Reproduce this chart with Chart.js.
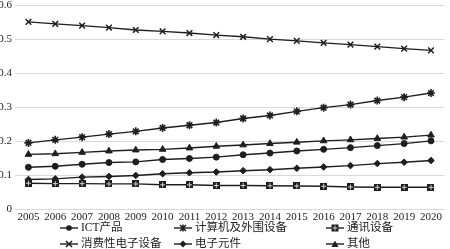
<!DOCTYPE html>
<html>
<head>
<meta charset="utf-8">
<script src="https://cdn.jsdelivr.net/npm/chart.js@4"></script>
<style>
  html, body { margin: 0; padding: 0; background: #fff; }
  #wrap { position: relative; width: 450px; height: 249px; }
  #legend { position: absolute; left: 0; top: 219px; width: 450px; font-family: "Liberation Serif", "Noto Sans CJK SC", serif; font-size: 11.5px; color: #222; }
  .item { position: absolute; height: 16px; line-height: 16px; white-space: nowrap; }
  .item svg { vertical-align: middle; margin-right: 3px; }
</style>
</head>
<body>
<div id="wrap">
  <canvas id="chart" width="450" height="249"></canvas>
  <div id="legend"></div>
</div>
<script>
/*===============
data
====================*/
const years = ['2005', '2006', '2007', '2008', '2009', '2010', '2011', '2012', '2013', '2014', '2015', '2016', '2017', '2018', '2019', '2020'];
const ictProducts = [0.123, 0.126, 0.132, 0.137, 0.139, 0.146, 0.149, 0.153, 0.160, 0.165, 0.171, 0.176, 0.181, 0.187, 0.193, 0.201];
const computers = [0.195, 0.204, 0.212, 0.221, 0.229, 0.239, 0.247, 0.255, 0.267, 0.276, 0.288, 0.299, 0.308, 0.320, 0.330, 0.342];
const telecom = [0.076, 0.075, 0.075, 0.074, 0.074, 0.0715, 0.0715, 0.0695, 0.0695, 0.0685, 0.068, 0.067, 0.065, 0.064, 0.064, 0.064];
const consumer = [0.552, 0.546, 0.541, 0.535, 0.528, 0.524, 0.519, 0.513, 0.508, 0.501, 0.496, 0.490, 0.485, 0.479, 0.473, 0.468];
const components = [0.087, 0.089, 0.094, 0.096, 0.099, 0.104, 0.107, 0.109, 0.113, 0.116, 0.120, 0.124, 0.128, 0.134, 0.138, 0.143];
const others = [0.161, 0.163, 0.167, 0.171, 0.174, 0.176, 0.180, 0.185, 0.189, 0.193, 0.197, 0.201, 0.204, 0.208, 0.212, 0.218];
const yTicks = ['0', '0.1', '0.2', '0.3', '0.4', '0.5', '0.6'];

const ink = '#1e1e1e';

// square with a light cross inside, like the excel marker
const gridSquare = document.createElement('canvas');
gridSquare.width = 7; gridSquare.height = 7;
(function () {
    const c = gridSquare.getContext('2d');
    c.fillStyle = ink;
    c.fillRect(0, 0, 7, 7);
    c.fillStyle = '#cfcfcf';
    c.fillRect(3, 1, 1, 5);
    c.fillRect(1, 3, 5, 1);
})();

function series(label, data, style, radius, border) {
    return {
        label: label,
        data: data,
        borderColor: ink,
        backgroundColor: ink,
        borderWidth: 1.4,
        pointStyle: style,
        pointRadius: radius,
        pointBorderWidth: border,
        pointBackgroundColor: ink,
        pointBorderColor: ink,
        tension: 0
    };
}

/*===============
line chart
====================*/
const ctx = document.getElementById('chart');
new Chart(ctx, {
    type: 'line',
    data: {
        labels: years,
        datasets: [
            series('ICT产品', ictProducts, 'circle', 3, 1),
            series('计算机及外围设备', computers, 'star', 4, 1.6),
            series('通讯设备', telecom, gridSquare, 4, 1),
            series('消费性电子设备', consumer, 'crossRot', 4, 1.5),
            series('电子元件', components, 'rectRot', 3.3, 1),
            series('其他', others, 'triangle', 3.8, 1)
        ]
    },
    options: {
        responsive: false,
        animation: false,
        layout: { padding: { top: 5, right: 1, left: 0, bottom: 0 } },
        plugins: {
            legend: { display: false },
            tooltip: { enabled: false }
        },
        scales: {
            x: {
                offset: true,
                grid: { display: false, drawTicks: false },
                border: { display: false },
                ticks: {
                    color: '#222',
                    padding: 2,
                    maxRotation: 0,
                    autoSkip: false,
                    font: { family: 'Liberation Serif', size: 11 }
                },
                afterFit: function (scale) { scale.height = 40; }
            },
            y: {
                min: 0,
                max: 0.6,
                grid: { color: '#d9d9d9', lineWidth: 1, drawTicks: false },
                border: { display: false },
                ticks: {
                    stepSize: 0.1,
                    color: '#222',
                    padding: 3,
                    font: { family: 'Liberation Serif', size: 11 },
                    callback: function (v, i) { return yTicks[i]; }
                },
                afterFit: function (scale) {
                    scale.width = 15;
                    scale.paddingTop = 0;
                    scale.paddingBottom = 0;
                }
            }
        }
    }
});

/*===============
legend
====================*/
const legendItems = [
    { label: 'ICT产品', mark: 'circle', x: 60, row: 0 },
    { label: '计算机及外围设备', mark: 'star', x: 174, row: 0 },
    { label: '通讯设备', mark: 'grid', x: 326, row: 0 },
    { label: '消费性电子设备', mark: 'cross', x: 60, row: 1 },
    { label: '电子元件', mark: 'diamond', x: 174, row: 1 },
    { label: '其他', mark: 'triangle', x: 326, row: 1 }
];

function markSvg(mark) {
    let m = '';
    if (mark === 'circle') m = '<circle cx="9" cy="5" r="2.8" fill="' + ink + '"/>';
    if (mark === 'star') m = '<path d="M6 2L12 8M12 2L6 8M9 1.5V8.5" stroke="' + ink + '" stroke-width="1.5"/>';
    if (mark === 'grid') m = '<rect x="5.5" y="1.5" width="7" height="7" fill="' + ink + '"/><path d="M9 2.5V7.5M6.5 5H11.5" stroke="#cfcfcf" stroke-width="1"/>';
    if (mark === 'cross') m = '<path d="M6 2L12 8M12 2L6 8" stroke="' + ink + '" stroke-width="1.5"/>';
    if (mark === 'diamond') m = '<path d="M9 1.6L12.4 5L9 8.4L5.6 5Z" fill="' + ink + '"/>';
    if (mark === 'triangle') m = '<path d="M9 1.5L12.5 8H5.5Z" fill="' + ink + '"/>';
    return '<svg width="18" height="10" viewBox="0 0 18 10"><line x1="0" y1="5" x2="18" y2="5" stroke="' + ink + '" stroke-width="1.4"/>' + m + '</svg>';
}

const legendBox = document.getElementById('legend');
legendItems.forEach(function (it) {
    const d = document.createElement('div');
    d.className = 'item';
    d.style.left = it.x + 'px';
    d.style.top = (it.row * 16) + 'px';
    d.innerHTML = markSvg(it.mark) + '<span>' + it.label + '</span>';
    legendBox.appendChild(d);
});
</script>
</body>
</html>
